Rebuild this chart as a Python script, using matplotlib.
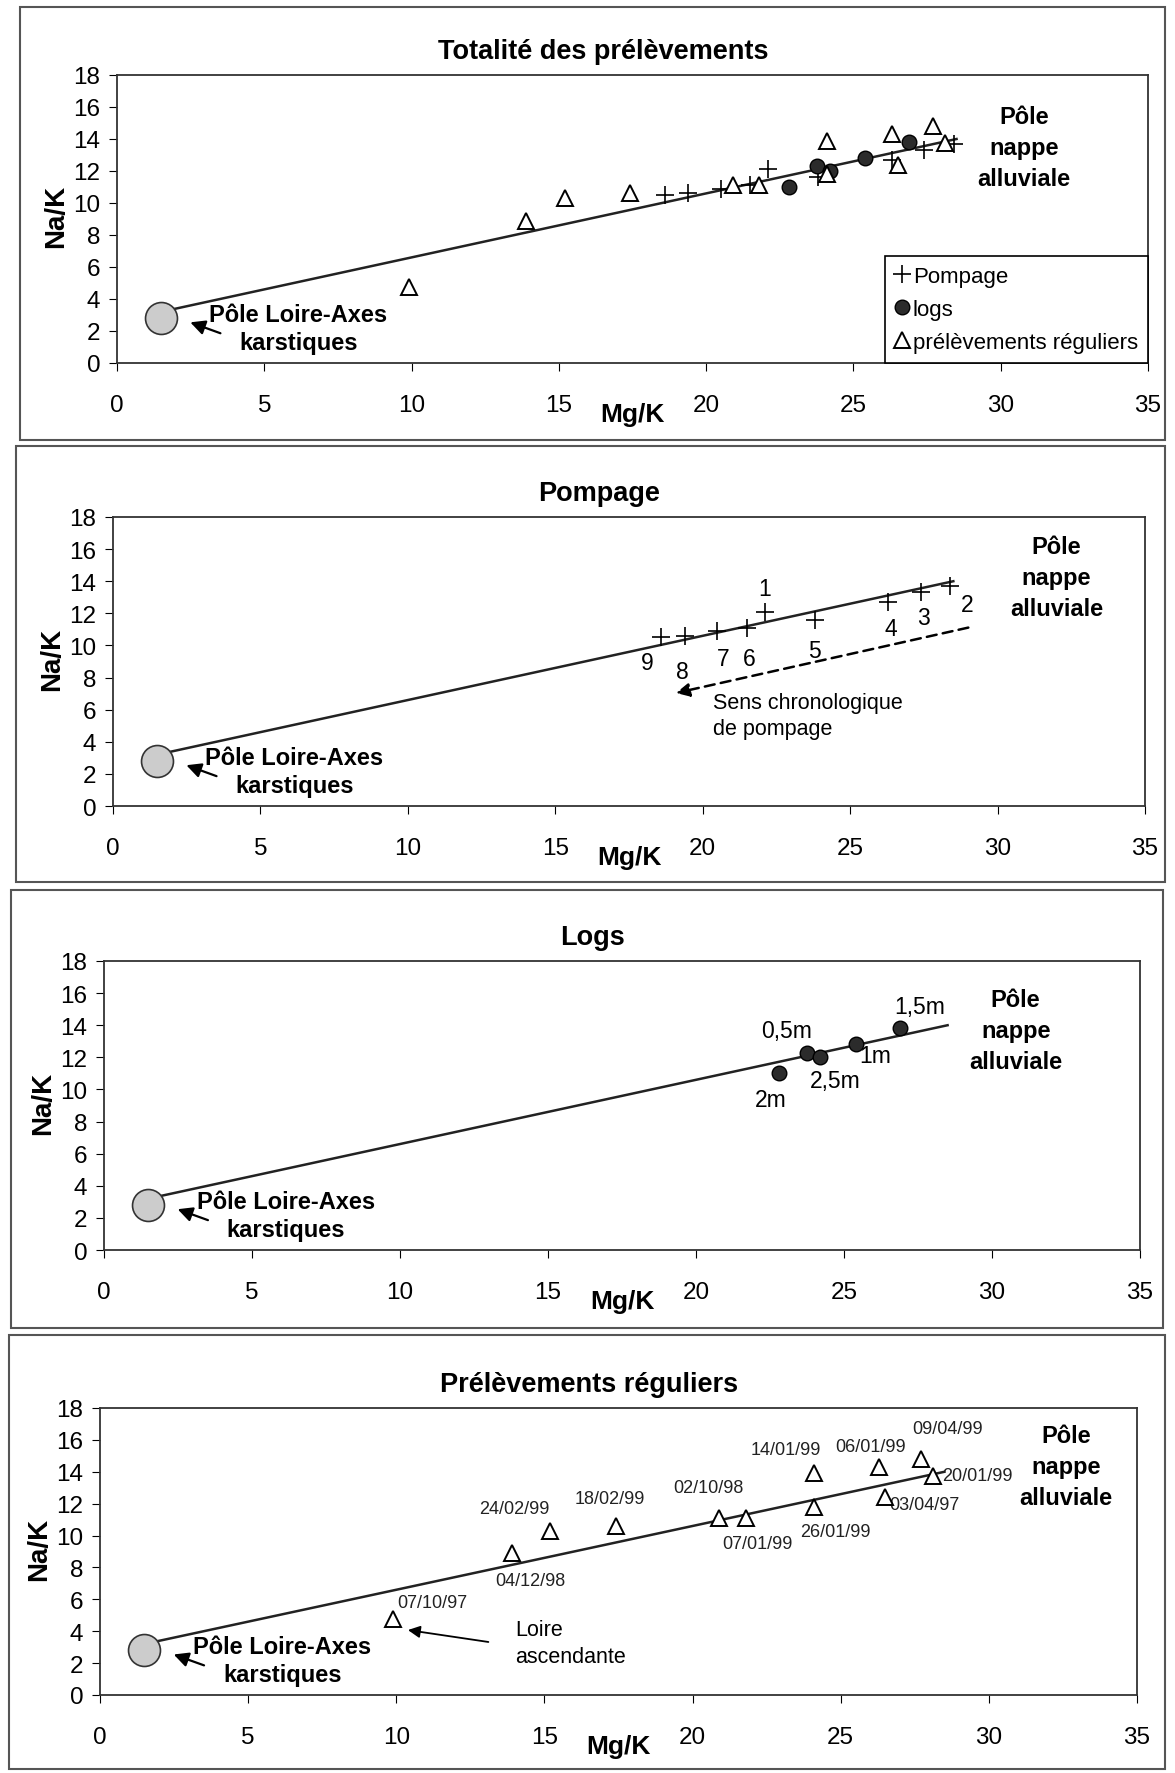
# Na/K vs Mg/K - four panels (all samples, pumping, logs, regular samples)
import matplotlib
matplotlib.use("Agg")
import matplotlib.pyplot as plt
from matplotlib.patches import Rectangle

plt.rcParams['font.family'] = ['Liberation Sans', 'DejaVu Sans']

# Data
pompage_x = [22.1, 28.4, 27.4, 26.3, 23.8, 21.5, 20.5, 19.4, 18.6]
pompage_y = [12.1, 13.7, 13.3, 12.7, 11.6, 11.1, 10.9, 10.6, 10.5]
pompage_lab = ["1", "2", "3", "4", "5", "6", "7", "8", "9"]

logs_x = [23.75, 26.9, 25.4, 24.2, 22.8]
logs_y = [12.3, 13.8, 12.8, 12.0, 11.0]
logs_lab = ["0,5m", "1,5m", "1m", "2,5m", "2m"]

reg_x = [9.9, 13.9, 15.2, 17.4, 20.9, 21.8, 24.1, 24.1, 26.3, 26.5, 27.7, 28.1]
reg_y = [4.75, 8.9, 10.3, 10.6, 11.1, 11.1, 13.9, 11.8, 14.3, 12.4, 14.8, 13.75]
reg_lab = ["07/10/97", "04/12/98", "24/02/99", "18/02/99", "02/10/98", "07/01/99",
           "14/01/99", "26/01/99", "06/01/99", "03/04/97", "09/04/99", "20/01/99"]

loire_x, loire_y = 1.5, 2.8
line_x = [1.5, 28.5]
line_y = [3.2, 14.0]

xticks = [0, 5, 10, 15, 20, 25, 30, 35]
yticks = [0, 2, 4, 6, 8, 10, 12, 14, 16, 18]

titles = ["Totalité des prélèvements", "Pompage", "Logs", "Prélèvements réguliers"]

# Layout (pixels in 1175x1774 image)
W, H = 1175, 1774
axes_px = [(117, 1148, 76, 364), (113, 1145, 518, 807),
           (104, 1140, 962, 1251), (100, 1137, 1409, 1696)]
frames_px = [(20, 1165, 8, 441), (16, 1165, 447, 883),
             (11, 1163, 891, 1329), (9, 1165, 1336, 1770)]
pole_pos = [(30.8, 13.45), (32.0, 14.25), (30.8, 13.65), (32.6, 14.35)]

fig = plt.figure(figsize=(W / 100, H / 100), dpi=100)

for (l, r, t, b) in frames_px:
    fig.patches.append(Rectangle((l / W, 1 - b / H), (r - l) / W, (b - t) / H,
                                 transform=fig.transFigure, fill=False,
                                 edgecolor='#555555', linewidth=1.5))

def plus_pts(ax):
    ax.plot(pompage_x, pompage_y, '+', color='black', ms=13, mew=1.2, zorder=4,
            label="Pompage")

def log_pts(ax):
    ax.plot(logs_x, logs_y, 'o', color='#2b2b2b', mec='black', ms=10.5, zorder=4,
            label="logs")

def reg_pts(ax):
    ax.plot(reg_x, reg_y, '^', mfc='white', mec='black', ms=11, mew=1.4, zorder=4,
            label="prélèvements réguliers")

axes = []
for i, (l, r, t, b) in enumerate(axes_px):
    ax = fig.add_axes([l / W, 1 - b / H, (r - l) / W, (b - t) / H])
    ax.set_xlim(0, 35)
    ax.set_ylim(0, 18)
    ax.set_xticks(xticks)
    ax.set_yticks(yticks)
    ax.tick_params(axis='x', direction='out', length=6, pad=16, labelsize=17.5)
    ax.tick_params(axis='y', direction='out', length=6, pad=6, labelsize=17.5)
    for s in ax.spines.values():
        s.set_color('#333333')
        s.set_linewidth(1.3)

    # regression line and Loire pole
    ax.plot(line_x, line_y, color='#222222', lw=1.8, zorder=3)
    ax.plot([loire_x], [loire_y], 'o', ms=23, mfc='#cccccc', mec='#333333',
            mew=1.2, zorder=5)

    ax.annotate(titles[i], xy=(16.5, 1), xycoords=('data', 'axes fraction'),
                xytext=(0, 17), textcoords='offset points', ha='center',
                va='center', fontsize=19.5, fontweight='bold')
    ax.annotate("Mg/K", xy=(17.5, 0), xycoords=('data', 'axes fraction'),
                xytext=(0, -37), textcoords='offset points', ha='center',
                va='center', fontsize=19, fontweight='bold')
    ax.annotate("Na/K", xy=(0, 9.2), xycoords=('axes fraction', 'data'),
                xytext=(-44, 0), textcoords='offset points', ha='center',
                va='center', fontsize=20, fontweight='bold', rotation=90)

    px, py = pole_pos[i]
    ax.text(px, py, "Pôle\nnappe\nalluviale", ha='center', va='center',
            fontsize=17, fontweight='bold', linespacing=1.45)
    ax.text(6.15, 2.15, "Pôle Loire-Axes\nkarstiques", ha='center', va='center',
            fontsize=17, fontweight='bold', linespacing=1.3)
    ax.annotate("", xy=(2.4, 2.6), xytext=(3.6, 1.8),
                arrowprops=dict(arrowstyle='-|>', color='black', lw=1.6,
                                mutation_scale=22), zorder=6)
    axes.append(ax)

# Panel 1 : all samples
ax = axes[0]
plus_pts(ax)
log_pts(ax)
reg_pts(ax)
leg = ax.legend(loc='lower right', bbox_to_anchor=(1, 0), borderaxespad=0,
                fontsize=16, handlelength=0.6, handletextpad=0.2,
                labelspacing=0.55, fancybox=False, edgecolor='black',
                framealpha=1, borderpad=0.45)
leg.get_frame().set_linewidth(1.2)

# Panel 2 : pumping
ax = axes[1]
plus_pts(ax)
num_off = {"1": (0, 17), "2": (12, -13), "3": (2, -18), "4": (2, -19),
           "5": (0, -22), "6": (2, -22), "7": (4, -20), "8": (-2, -26),
           "9": (-10, -18)}
for x, y, s in zip(pompage_x, pompage_y, pompage_lab):
    ax.annotate(s, (x, y), xytext=num_off[s], textcoords='offset points',
                ha='center', va='center', fontsize=16.5)
ax.annotate("", xy=(19.0, 7.0), xytext=(29.1, 11.15),
            arrowprops=dict(arrowstyle='-|>', color='black', lw=1.8,
                            linestyle=(0, (4, 2.5)), mutation_scale=20))
ax.text(20.35, 5.65, "Sens chronologique\nde pompage", ha='left', va='center',
        fontsize=15.5, linespacing=1.3)

# Panel 3 : logs
ax = axes[2]
log_pts(ax)
log_off = {"0,5m": (-15, 16), "1,5m": (14, 16), "1m": (14, -8),
           "2,5m": (11, -17), "2m": (-6, -19)}
for x, y, s in zip(logs_x, logs_y, logs_lab):
    ax.annotate(s, (x, y), xytext=log_off[s], textcoords='offset points',
                ha='center', va='center', fontsize=16.5)

# Panel 4 : regular samples
ax = axes[3]
reg_pts(ax)
date_off = {"07/10/97": (28, 12), "04/12/98": (13, -20), "24/02/99": (-26, 16),
            "18/02/99": (-4, 20), "02/10/98": (-8, 22), "07/01/99": (8, -18),
            "14/01/99": (-20, 17), "26/01/99": (15, -18), "06/01/99": (-6, 15),
            "03/04/97": (28, -5), "09/04/99": (19, 22), "20/01/99": (32, 0)}
for x, y, s in zip(reg_x, reg_y, reg_lab):
    ax.annotate(s, (x, y), xytext=date_off[s], textcoords='offset points',
                ha='center', va='center', fontsize=13, color='#222222')
ax.annotate("", xy=(10.3, 4.1), xytext=(13.2, 3.3),
            arrowprops=dict(arrowstyle='-|>', color='black', lw=1.3,
                            mutation_scale=18))
ax.text(14.0, 3.25, "Loire\nascendante", ha='left', va='center',
        fontsize=15.5, linespacing=1.35)

fig.savefig("out.png", dpi=100)
